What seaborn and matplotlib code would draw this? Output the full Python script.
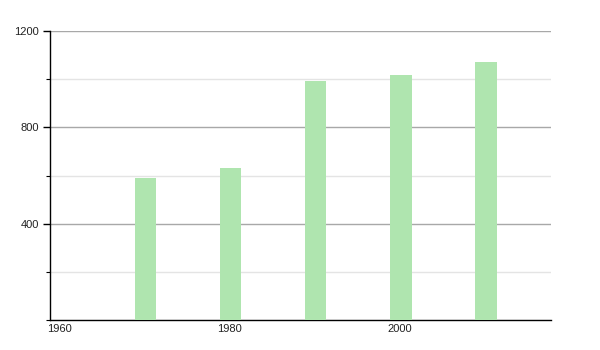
import matplotlib
matplotlib.use("Agg")
import matplotlib.pyplot as plt
import matplotlib.transforms as mtransforms
import seaborn as sns
import pandas as pd
from matplotlib.ticker import MultipleLocator

years = [1970, 1980, 1990, 2000, 2010]
values = [590, 632, 992, 1017, 1072]
x_ticks = [1960, 1980, 2000]
y_major = [400, 800, 1200]

bar_w = 2.5  # years

sns.set_theme(style="white")
plt.rcParams['font.family'] = ['Liberation Sans', 'DejaVu Sans']

df = pd.DataFrame({"year": years, "value": values})
df["xpos"] = df["year"] + bar_w / 2  # bars start at their year

fig = plt.figure(figsize=(6, 3.5), dpi=100)
ax = fig.add_axes([50/600, 30/350, 501/600, 289/350])

sns.barplot(data=df, x="xpos", y="value", native_scale=True, width=0.25,
            color="#afe5af", saturation=1, edgecolor="none", ax=ax, zorder=3)

ax.set_xlim(1960, 2018.9)
ax.set_ylim(0, 1200)
ax.set_xticks(x_ticks)
ax.set_xticklabels([str(t) for t in x_ticks], ha="left")
ax.set_yticks(y_major)
ax.yaxis.set_minor_locator(MultipleLocator(200))
ax.grid(axis="y", which="major", color="#a8a8a8", linewidth=1, zorder=0)
ax.grid(axis="y", which="minor", color="#e4e4e4", linewidth=1, zorder=0)
ax.set_axisbelow(True)

for s in ["top", "right"]:
    ax.spines[s].set_visible(False)
for s in ["left", "bottom"]:
    ax.spines[s].set_color("black")
    ax.spines[s].set_linewidth(1)

ax.tick_params(axis="y", which="major", left=True, length=5, width=1,
               color="black", labelsize=8, pad=3, labelcolor="#222222")
ax.tick_params(axis="y", which="minor", left=True, length=3, width=0.8,
               color="black")
ax.tick_params(axis="x", which="major", bottom=False, length=0,
               labelsize=8, pad=3, labelcolor="#222222")
offset = mtransforms.ScaledTranslation(-3/100, 0, fig.dpi_scale_trans)
for lbl in ax.get_xticklabels():
    lbl.set_transform(lbl.get_transform() + offset)
ax.set_xlabel("")
ax.set_ylabel("")

fig.savefig("out.png", dpi=100)
